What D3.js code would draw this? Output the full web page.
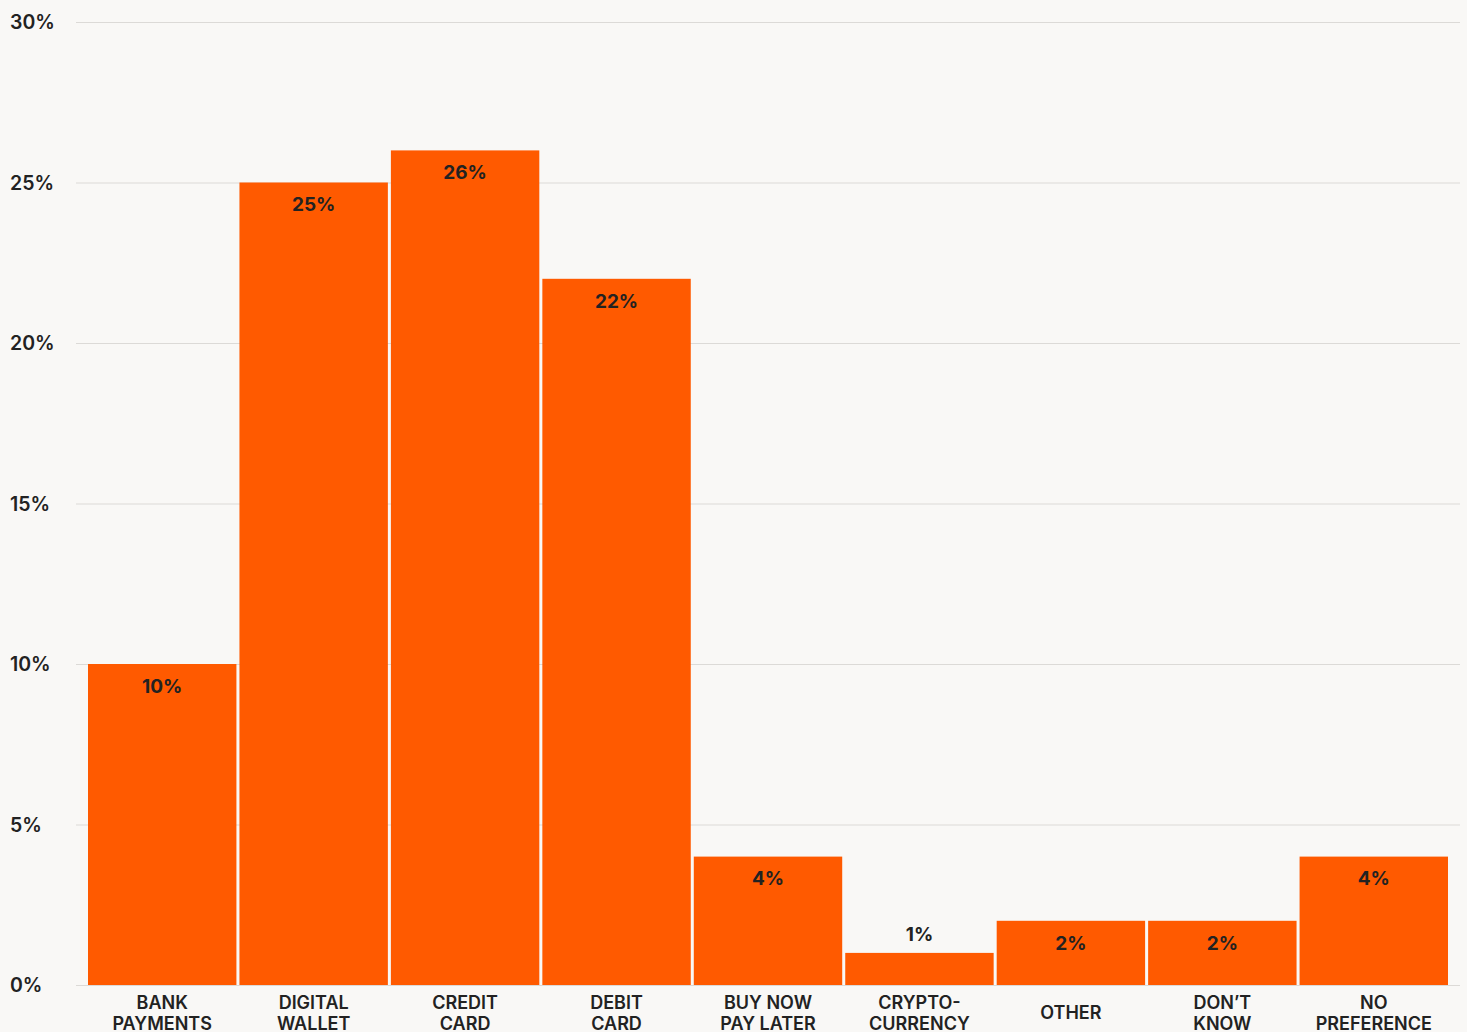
<!DOCTYPE html>
<html>
<head>
<meta charset="utf-8">
<script src="https://cdn.jsdelivr.net/npm/d3@7"></script>
<style>
  html, body { margin: 0; padding: 0; background: #f9f8f6; }
  svg { display: block; }
  text { font-family: Inter, "Open Sans", sans-serif; fill: #222; }
</style>
</head>
<body>
<svg id="chart" width="1467" height="1032"></svg>
<script>
// Preferred payment method, share of respondents (%)
const categories = [
  ["BANK", "PAYMENTS"],
  ["DIGITAL", "WALLET"],
  ["CREDIT", "CARD"],
  ["DEBIT", "CARD"],
  ["BUY NOW", "PAY LATER"],
  ["CRYPTO-", "CURRENCY"],
  ["OTHER"],
  ["DON\u2019T", "KNOW"],
  ["NO", "PREFERENCE"]
];
const values = [10, 25, 26, 22, 4, 1, 2, 2, 4];
const yTicks = [0, 5, 10, 15, 20, 25, 30];

const svg = d3.select("#chart");

const x = d3.scaleBand()
  .domain(d3.range(categories.length))
  .range([88, 1448])
  .paddingInner(0.02)
  .paddingOuter(0);

const y = d3.scaleLinear().domain([0, 30]).range([985, 22]);

// horizontal gridlines and tick labels
const grid = svg.append("g");
grid.selectAll("line").data(yTicks).join("line")
  .attr("x1", 76).attr("x2", 1460)
  .attr("y1", d => y(d) + 0.5).attr("y2", d => y(d) + 0.5)
  .attr("stroke", "#dcdad7").attr("stroke-width", 1);
grid.selectAll("text").data(yTicks).join("text")
  .attr("x", 10).attr("y", d => y(d))
  .attr("dy", "0.36em")
  .attr("font-size", 19.5).attr("font-weight", 600)
  .text(d => d + "%");

// bars
svg.append("g").selectAll("rect").data(values).join("rect")
  .attr("x", (d, i) => x(i))
  .attr("width", x.bandwidth())
  .attr("y", d => y(d))
  .attr("height", d => y(0) - y(d))
  .attr("fill", "#ff5a00");

// value labels: inside the bar top, or just above a short bar
svg.append("g").selectAll("text").data(values).join("text")
  .attr("x", (d, i) => x(i) + x.bandwidth() / 2)
  .attr("y", d => (y(0) - y(d) < 50) ? y(d) - 19 : y(d) + 22)
  .attr("dy", "0.36em")
  .attr("text-anchor", "middle")
  .attr("font-size", 19).attr("font-weight", 700)
  .text(d => d + "%");

// category labels
const cat = svg.append("g").selectAll("text").data(categories).join("text")
  .attr("x", (d, i) => x(i) + x.bandwidth() / 2)
  .attr("y", d => d.length === 1 ? 1019 : 1009)
  .attr("text-anchor", "middle")
  .attr("font-size", 18).attr("font-weight", 600);
cat.selectAll("tspan").data(d => d).join("tspan")
  .attr("x", function () { return d3.select(this.parentNode).attr("x"); })
  .attr("dy", (d, i) => i === 0 ? 0 : 21)
  .text(d => d);
</script>
</body>
</html>
